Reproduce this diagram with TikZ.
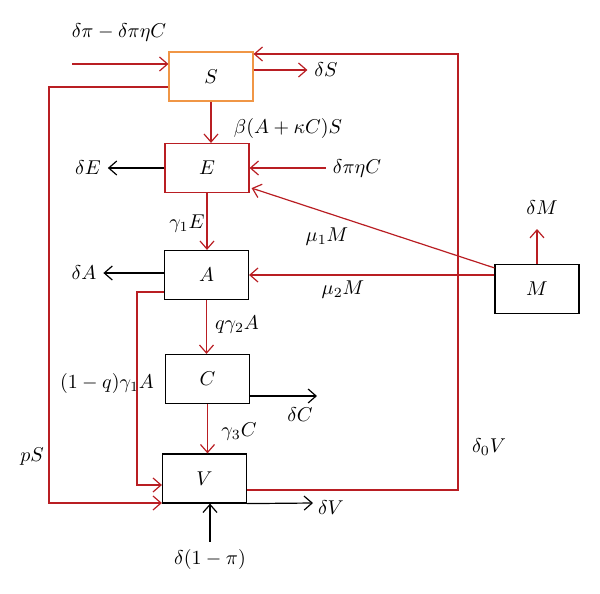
\documentclass[tikz,border=0pt]{standalone}
\usetikzlibrary{arrows.meta,calc}
\definecolor{flowred}{RGB}{185,30,35}
\definecolor{sorange}{RGB}{240,150,70}
\tikzset{
  comp/.style={draw=black, line width=0.6pt, minimum width=42pt, minimum height=24.5pt, inner sep=0pt},
  rflow/.style={draw=flowred, line width=0.6pt, -{Straight Barb[length=4pt,width=7pt]}},
  bflow/.style={draw=black, line width=0.6pt, -{Straight Barb[length=4pt,width=7pt]}},
}
\begin{document}
\begin{tikzpicture}[x=0.5pt, y=-0.5pt]
            \useasboundingbox (0,0) rectangle (600,594);
            % compartments
            \node [comp, draw=sorange] (S) at (211,76.5) {$S$};
            \node [comp, draw=flowred] (E) at (207,168) {$E$};
            \node [comp] (A) at (206.5,275) {$A$};
            \node [comp] (C) at (207.5,379) {$C$};
            \node [comp] (V) at (204.5,478.5) {$V$};
            \node [comp] (M) at (537,289) {$M$};
            % labels
            \node (lin) at (119,33) {$\delta\pi - \delta\pi\eta C$};
            \node (lS) at (326,70) {$\delta S$};
            \node (lbeta) at (288,128) {$\beta(A + \kappa C)S$};
            \node (lEin) at (357,168) {$\delta\pi\eta C$};
            \node (lE) at (88,168) {$\delta E$};
            \node (lgE) at (187,224) {$\gamma_1 E$};
            \node (lmuE) at (327,237) {$\mu_1 M$};
            \node (lmuA) at (343,290) {$\mu_2 M$};
            \node (lM) at (542,208) {$\delta M$};
            \node (lA) at (84,273) {$\delta A$};
            \node (lqA) at (237,325) {$q\gamma_2 A$};
            \node (lpA) at (107,383) {$(1 - q)\gamma_1 A$};
            \node (lC) at (300,415) {$\delta C$};
            \node (lgC) at (239,432) {$\gamma_3 C$};
            \node (ldV) at (489,447) {$\delta_0 V$};
            \node (lpS) at (32,457) {$pS$};
            \node (lV) at (331,508) {$\delta V$};
            \node (lVin) at (210,559) {$\delta(1 - \pi)$};
            % free ends and corners
            \coordinate (sin) at (72,64);
            \coordinate (fb1) at (458,490);
            \coordinate (fb2) at (458,54);
            \coordinate (ps1) at (49,87);
            \coordinate (ps2) at (49,503);
            \coordinate (av1) at (137,292);
            \coordinate (av2) at (137,485);
            \coordinate (cout) at (317,396);
            \coordinate (vout) at (313,503);
            \coordinate (mout) at (537,229);
            % flows
            \draw [rflow] (sin) -- (sin -| S.west);
            \draw [rflow] (S.east |- lS) -- (lS);
            \draw [rflow] (V.east |- fb1) -- (fb1) -- (fb2) -- (fb2 -| S.east);
            \draw [rflow] (ps1 -| S.west) -- (ps1) -- (ps2) -- (ps2 -| V.west);
            \draw [rflow] (S.south) -- (S.south |- E.north);
            \draw [rflow] (lEin) -- (lEin -| E.east);
            \draw [bflow] (E) -- (lE);
            \draw [rflow] (E.south) -- (E.south |- A.north);
            \draw [rflow] ($(M.north west)+(0,4)$) -- ($(E.south east)+(2,-5)$);
            \draw [rflow] (M.west |- A) -- (A.east);
            \draw [rflow] (M.north) -- (mout);
            \draw [bflow] (A.west |- lA) -- (lA);
            \draw [rflow] (A.south) -- (A.south |- C.north);
            \draw [rflow] (av1 -| A.west) -- (av1) -- (av2) -- (av2 -| V.west);
            \draw [bflow] (cout -| C.east) -- (cout);
            \draw [rflow] (C.south) -- (C.south |- V.north);
            \draw [bflow] (V.south east) -- (vout);
            \draw [bflow] (lVin) -- (lVin |- V.south);
\end{tikzpicture}
\end{document}
